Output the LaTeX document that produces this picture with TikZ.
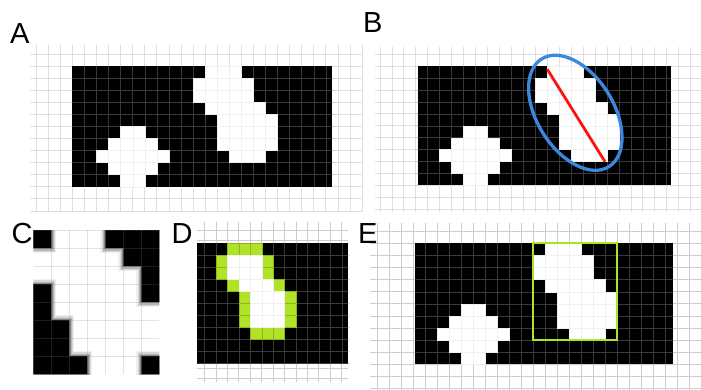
\documentclass[tikz,border=0pt]{standalone}
\usepackage{fontspec}
\setmainfont{Liberation Sans}
\usepackage{xcolor}
\usepackage{tikz}

\definecolor{limegreen}{RGB}{176,226,38}
\definecolor{ringblue}{RGB}{60,136,222}
\definecolor{axisred}{RGB}{250,20,20}

% blob masks as row/first column/last column
\newcommand{\smallrows}{5/4/5, 6/3/6, 7/2/7, 8/3/6, 9/4/5}
\newcommand{\bigrows}{0/11/13, 1/10/14, 2/10/14, 3/11/15, 4/12/16, 5/12/16, 6/12/16, 7/13/15}
\newcommand{\innerrows}{1/11/13, 2/11/13, 3/12/14, 4/13/15, 5/13/15, 6/13/15}
\newcommand{\cdark}{0/0/0, 0/4/6, 1/5/6, 2/6/6, 3/0/0, 3/6/6, 4/0/0, 5/0/1, 6/0/1, 7/0/2, 7/6/6}

\begin{document}
\begin{tikzpicture}[x=1pt, y=-1pt,
    panel label/.style={anchor=base west, inner sep=0pt, font=\fontsize{29}{32}\selectfont},
    paper grid/.style={gray!25, line width=0.6pt},
    heavy grid/.style={gray!40, line width=0.8pt},
    dark grid/.style={black!78!white, line width=0.4pt},
    pix/.style={fill=white, draw=gray!12, line width=0.3pt},
    edge pix/.style={fill=limegreen, draw=limegreen!80!black, line width=0.3pt}]
  \useasboundingbox (0,0) rectangle (701,390);

  % A: binary image on the paper grid
  \node[panel label] (labA) at (10,43.5) {A};
  \begin{scope}[shift={(72.3,66)}, x=12.07pt, y=-12.07pt]
    \foreach \x in {-3,...,24}
      \draw[paper grid] (\x,-1.75) -- (\x,12.1);
    \foreach \y in {-1,...,12}
      \draw[paper grid] (-3.5,\y) -- (24.1,\y);
    \fill[black] (0,0) rectangle (21.55,10);
    \begin{scope}
      \clip (0,0) rectangle (21.55,10);
      \foreach \x in {1,...,21} \draw[dark grid] (\x,0) -- (\x,10);
      \foreach \y in {1,...,9} \draw[dark grid] (0,\y) -- (22,\y);
    \end{scope}
    \foreach \r/\a/\b in \smallrows
      \foreach \col in {\a,...,\b} \draw[pix] (\col,\r) rectangle ++(1,1);
    \foreach \r/\a/\b in \bigrows
      \foreach \col in {\a,...,\b} \draw[pix] (\col,\r) rectangle ++(1,1);
  \end{scope}

  % B: long axis of the right blob
  \node[panel label] (labB) at (363,32.3) {B};
  \begin{scope}[shift={(415.7,66)}, x=11.95pt, y=-11.95pt]
    \foreach \x in {-3,...,23}
      \draw[paper grid] (\x,-1.6) -- (\x,12.2);
    \foreach \y in {-1,...,12}
      \draw[paper grid] (-3.4,\y) -- (23.9,\y);
    \fill[black] (0.17,0) rectangle (21.36,10);
    \begin{scope}
      \clip (0.17,0) rectangle (21.36,10);
      \foreach \x in {1,...,21} \draw[dark grid] (\x,0) -- (\x,10);
      \foreach \y in {1,...,9} \draw[dark grid] (0,\y) -- (22,\y);
    \end{scope}
    \foreach \r/\a/\b in \smallrows
      \foreach \col in {\a,...,\b} \draw[pix] (\col,\r) rectangle ++(1,1);
    \foreach \r/\a/\b in \bigrows
      \foreach \col in {\a,...,\b} \draw[pix] (\col,\r) rectangle ++(1,1);
  \end{scope}
  \coordinate (axisTop) at (547.3,69.3);
  \coordinate (axisEnd) at (605,161.7);
  \draw[ringblue, line width=3.3pt, rotate around={-58:(575.3,112.8)}]
    (575.3,112.8) ellipse [x radius=63.5, y radius=38.2];
  \draw[axisred, line width=2.8pt] (axisTop) -- (axisEnd);

  % C: zoomed crop of the right blob (blurred)
  \node[panel label] (labC) at (11.5,243.5) {C};
  \begin{scope}[shift={(33.3,230)}, x=18pt, y=-18pt]
    \clip (0,0) rectangle (7,8);
    \fill[white] (0,0) rectangle (7,8);
    \foreach \w/\o in {10/0.06, 7.5/0.1, 5/0.16, 2.5/0.25}
      \draw[black, line width=\w pt, draw opacity=\o]
        \foreach \r/\a/\b in \cdark {(\a,\r) rectangle (\b+1,\r+1)};
    \fill[black]
      \foreach \r/\a/\b in \cdark {(\a,\r) rectangle (\b+1,\r+1)};
    \foreach \x in {1,...,6}
      \draw[gray, opacity=0.22, line width=0.5pt] (\x,0) -- (\x,8);
    \foreach \y in {0,...,7}
      \draw[gray, opacity=0.22, line width=0.5pt] (0,\y) -- (7,\y);
  \end{scope}

  % D: boundary pixels of the right blob
  \node[panel label] (labD) at (171.5,243.5) {D};
  \foreach \y in {230,240,368.3,378.3}
    \draw[heavy grid] (197.3,\y) -- (348.3,\y);
  \begin{scope}[shift={(101.7,243.3)}, x=11.43pt, y=-12pt]
    \foreach \x in {9,...,21} {
      \draw[heavy grid] (\x,-1.78) -- (\x,0);
      \draw[heavy grid] (\x,10.08) -- (\x,11.56);
    }
    \fill[black] (8.36,0) rectangle (21.57,10.08);
    \begin{scope}
      \clip (8.36,0) rectangle (21.57,10.08);
      \foreach \x in {9,...,21} \draw[dark grid] (\x,0) -- (\x,10.08);
      \foreach \y in {1,...,10} \draw[dark grid] (8,\y) -- (22,\y);
    \end{scope}
    \foreach \r/\a/\b in \bigrows
      \foreach \col in {\a,...,\b} \draw[edge pix] (\col,\r) rectangle ++(1,1);
    \foreach \r/\a/\b in \innerrows
      \foreach \col in {\a,...,\b} \draw[pix] (\col,\r) rectangle ++(1,1);
  \end{scope}

  % E: bounding box of the right blob
  \node[panel label] (labE) at (358,243.5) {E};
  \begin{scope}[shift={(413.3,243.3)}, x=12pt, y=-12.1pt]
    \foreach \x in {-3,...,23}
      \draw[heavy grid] (\x,-1.68) -- (\x,12.12);
    \foreach \y in {-1,...,12}
      \draw[heavy grid] (-3.6,\y) -- (23.97,\y);
    \fill[black] (0.14,0) rectangle (21.6,10);
    \begin{scope}
      \clip (0.14,0) rectangle (21.6,10);
      \foreach \x in {1,...,21} \draw[dark grid] (\x,0) -- (\x,10);
      \foreach \y in {1,...,9} \draw[dark grid] (0,\y) -- (22,\y);
    \end{scope}
    \foreach \r/\a/\b in \smallrows
      \foreach \col in {\a,...,\b} \draw[pix] (\col,\r) rectangle ++(1,1);
    \foreach \r/\a/\b in \bigrows
      \foreach \col in {\a,...,\b} \draw[pix] (\col,\r) rectangle ++(1,1);
    \draw[limegreen, line width=1.8pt] (10,0) rectangle (17,8);
  \end{scope}
\end{tikzpicture}
\end{document}
